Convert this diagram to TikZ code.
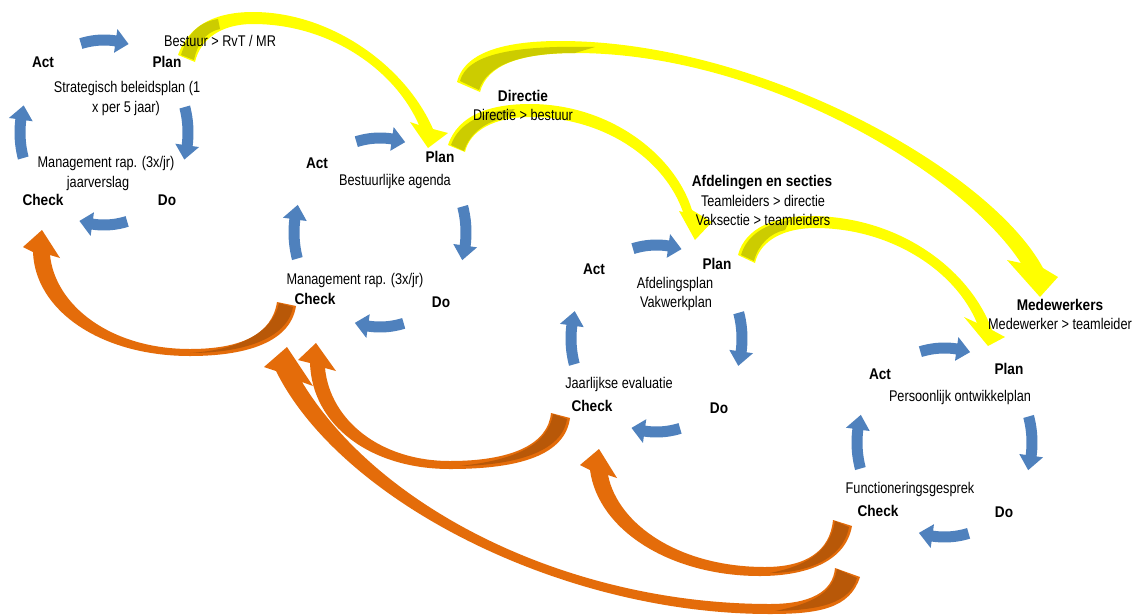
\documentclass[tikz,border=0pt]{standalone}
\usepackage{fontspec}
\newfontfamily\nfont{Liberation Sans}[FakeStretch=0.82]
\newfontfamily\bfontfam{Liberation Sans}[FakeStretch=0.88]
\definecolor{cblue}{RGB}{79,129,189}
\definecolor{cyel}{RGB}{255,255,0}
\definecolor{cyeld}{RGB}{204,204,0}
\definecolor{cor}{RGB}{228,108,10}
\definecolor{cord}{RGB}{184,88,8}
\tikzset{
  lbl/.style={font=\nfont\fontsize{15.5}{18}\selectfont, inner sep=0pt, text height=10pt, text depth=0pt, anchor=center},
  blbl/.style={font=\bfontfam\bfseries\fontsize{15.5}{18}\selectfont, inner sep=0pt, text height=10pt, text depth=0pt, anchor=center},
  bluearr/.style={fill=cblue},
  yelarr/.style={fill=cyel},
  yeldark/.style={fill=cyeld},
  orarr/.style={fill=cor},
  ordark/.style={fill=cord}
}
% cx cy rx ry
\newcommand\pdcacycle[4]{%
  \foreach \a in {90,0,270,180}{%
    \pgfmathsetmacro\sA{\a+16}%
    \pgfmathsetmacro\hA{\a-8}%
    \pgfmathsetmacro\tA{\a-17}%
    \fill[bluearr] plot[variable=\u,domain=\sA:\hA,samples=12] ({#1+(#3+5.5)*cos(\u)},{#2-(#4+5.5)*sin(\u)})
      -- ({#1+(#3+12)*cos(\hA)},{#2-(#4+12)*sin(\hA)})
      -- ({#1+#3*cos(\tA)},{#2-#4*sin(\tA)})
      -- ({#1+(#3-12)*cos(\hA)},{#2-(#4-12)*sin(\hA)})
      -- plot[variable=\u,domain=\hA:\sA,samples=12] ({#1+(#3-5.5)*cos(\u)},{#2-(#4-5.5)*sin(\u)})
      -- cycle;
  }%
}
\begin{document}
\begin{tikzpicture}[x=1pt,y=-1pt]
\useasboundingbox (0,0) rectangle (1141,614);
\fill[white] (0,0) rectangle (1141,614);

% ---------- yellow arrows ----------
% Y1 Bestuur -> Directie
\fill[yelarr] (178,55) .. controls (190,22) and (220,12) .. (253,12)
  .. controls (330,12) and (405,65) .. (433,129)
  -- (448,133) -- (428,148) -- (410,122) -- (419,125)
  .. controls (395,70) and (330,24) .. (253,24)
  .. controls (220,24) and (200,40) .. (195,62) -- cycle;
\fill[yeldark] (181,55) .. controls (188,32) and (200,22) .. (218,19)
  -- (220,29) .. controls (205,32) and (197,45) .. (194,60) -- cycle;

% Y2 Directie -> Medewerkers
\fill[yelarr] (457,82) .. controls (465,50) and (510,41) .. (560,41)
  .. controls (760,41) and (990,170) .. (1043,268)
  -- (1058,277) -- (1040,297) -- (1007,260) -- (1021,263)
  .. controls (960,170) and (760,53) .. (575,53)
  .. controls (520,53) and (487,65) .. (480,92) -- cycle;
\fill[yeldark] (460,81) .. controls (467,55) and (510,45) .. (595,47)
  -- (575,53) .. controls (520,53) and (487,65) .. (479,90) -- cycle;

% Y3 Directie -> Afdelingen
\fill[yelarr] (448,145) .. controls (458,115) and (490,104) .. (530,104)
  .. controls (610,104) and (675,155) .. (692,210)
  -- (712,222) -- (695,240) -- (679,211) -- (683,212)
  .. controls (665,160) and (605,117) .. (530,117)
  .. controls (495,117) and (470,130) .. (465,152) -- cycle;
\fill[yeldark] (451,145) .. controls (459,122) and (485,111) .. (515,109)
  -- (505,118) .. controls (485,122) and (470,133) .. (464,151) -- cycle;

% Y4 Afdelingen -> Medewerkers
\fill[yelarr] (738,255) .. controls (745,228) and (775,216) .. (810,216)
  .. controls (900,216) and (970,270) .. (992,330)
  -- (1005,337) -- (988,346) -- (964,317) -- (977,323)
  .. controls (955,270) and (890,228) .. (815,228)
  .. controls (785,228) and (760,240) .. (755,263) -- cycle;
\fill[yeldark] (741,255) .. controls (747,235) and (765,224) .. (790,220)
  -- (785,230) .. controls (770,233) and (758,245) .. (754,261) -- cycle;

% ---------- orange arrows ----------
% O1
\fill[orarr] (296,306) .. controls (290,345) and (240,356) .. (190,356)
  .. controls (100,356) and (35,310) .. (33,252)
  -- (23,247) -- (42,230) -- (60,258) -- (50,255)
  .. controls (55,305) and (110,349) .. (190,349)
  .. controls (240,349) and (272,335) .. (277,302) -- cycle;
\fill[ordark] (293,307) .. controls (287,340) and (240,353) .. (190,353)
  .. controls (235,350) and (272,335) .. (279,303) -- cycle;

% O4 long one
\fill[orarr] (860,577) .. controls (850,608) and (820,614) .. (770,614)
  .. controls (560,614) and (340,500) .. (276,371)
  -- (264,367) -- (287,347) -- (313,386) -- (302,382)
  .. controls (380,510) and (570,604) .. (770,604)
  .. controls (810,604) and (833,592) .. (835,568) -- cycle;
\fill[ordark] (857,578) .. controls (850,603) and (820,610) .. (775,611)
  .. controls (815,603) and (833,592) .. (837,569) -- cycle;

% O2
\fill[orarr] (570,418) .. controls (565,455) and (520,469) .. (450,469)
  .. controls (370,469) and (312,425) .. (310,363)
  -- (298,360) -- (316,343) -- (336,371) -- (325,368)
  .. controls (330,420) and (380,461) .. (450,461)
  .. controls (510,461) and (548,445) .. (551,413) -- cycle;
\fill[ordark] (567,419) .. controls (562,452) and (515,465) .. (460,466)
  .. controls (515,460) and (548,445) .. (553,414) -- cycle;

% O3
\fill[orarr] (852,526) .. controls (845,565) and (800,576) .. (760,576)
  .. controls (670,576) and (598,530) .. (590,470)
  -- (580,465) -- (599,449) -- (617,478) -- (608,475)
  .. controls (618,525) and (680,567) .. (765,567)
  .. controls (805,567) and (830,552) .. (833,520) -- cycle;
\fill[ordark] (849,527) .. controls (843,560) and (805,573) .. (770,573)
  .. controls (810,565) and (830,550) .. (835,521) -- cycle;

% ---------- blue PDCA cycles ----------
\pdcacycle{104}{132.5}{84}{92.5}
\pdcacycle{380}{232.5}{86}{94.5}
\pdcacycle{656.5}{338.5}{85.5}{93.5}
\pdcacycle{944.5}{442.5}{87.5}{94.5}

% ---------- texts ----------
% cycle 1
\node[lbl]  (b1)  at (220,41)  {Bestuur > RvT / MR};
\node[blbl] (a1)  at (43,62)   {Act};
\node[blbl] (p1)  at (167,62)  {Plan};
\node[lbl]  (s1a) at (127,87)  {Strategisch beleidsplan (1};
\node[lbl]  (s1b) at (126,107) {x per 5 jaar)};
\node[lbl]  (m1a) at (106,162) {Management rap. (3x/jr)};
\node[lbl]  (m1b) at (98,182)  {jaarverslag};
\node[blbl] (c1)  at (43,200)  {Check};
\node[blbl] (d1)  at (167,200) {Do};
% cycle 2
\node[blbl] (dirh) at (523,96)  {Directie};
\node[lbl]  (dirt) at (523,115) {Directie > bestuur};
\node[blbl] (a2)  at (317,163) {Act};
\node[blbl] (p2)  at (440,157) {Plan};
\node[lbl]  (ba2) at (395,180) {Bestuurlijke agenda};
\node[lbl]  (m2)  at (355,279) {Management rap. (3x/jr)};
\node[blbl] (c2)  at (315,299) {Check};
\node[blbl] (d2)  at (441,302) {Do};
% cycle 3
\node[blbl] (afh)  at (762,181) {Afdelingen en secties};
\node[lbl]  (aft1) at (763,201) {Teamleiders > directie};
\node[lbl]  (aft2) at (763,220) {Vaksectie > teamleiders};
\node[blbl] (a3)  at (594,269) {Act};
\node[blbl] (p3)  at (717,264) {Plan};
\node[lbl]  (ap3) at (675,283) {Afdelingsplan};
\node[lbl]  (vp3) at (676,302) {Vakwerkplan};
\node[lbl]  (je3) at (619,383) {Jaarlijkse evaluatie};
\node[blbl] (c3)  at (592,406) {Check};
\node[blbl] (d3)  at (719,408) {Do};
% cycle 4
\node[blbl] (mwh) at (1060,305) {Medewerkers};
\node[lbl]  (mwt) at (1060,324) {Medewerker > teamleider};
\node[blbl] (a4)  at (880,374) {Act};
\node[blbl] (p4)  at (1009,369) {Plan};
\node[lbl]  (po4) at (960,396) {Persoonlijk ontwikkelplan};
\node[lbl]  (fg4) at (910,488) {Functioneringsgesprek};
\node[blbl] (c4)  at (878,511) {Check};
\node[blbl] (d4)  at (1004,512) {Do};
\end{tikzpicture}
\end{document}
